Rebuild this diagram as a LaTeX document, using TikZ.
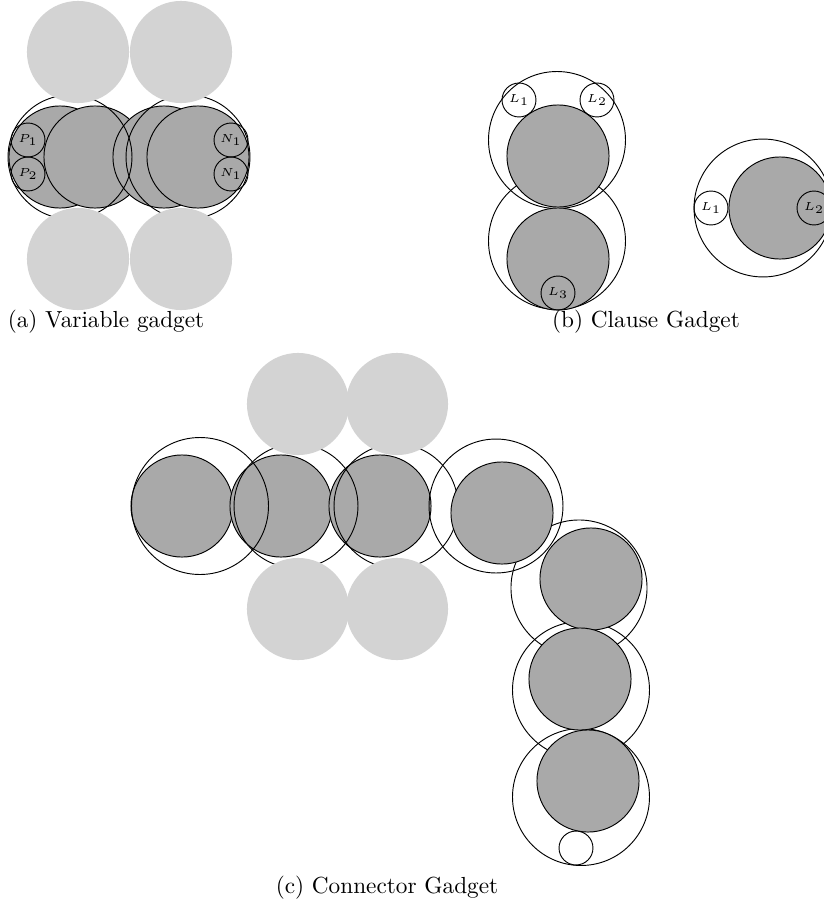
\documentclass[tikz,border=0pt]{standalone}
\definecolor{sparegray}{RGB}{211,211,211}
\definecolor{coregray}{RGB}{169,169,169}
\begin{document}
\begin{tikzpicture}[x=0.43pt, y=-0.43pt,
        spare/.style={circle, fill=sparegray, inner sep=0pt, minimum size=43.9pt},
        core/.style={circle, draw, fill=coregray, inner sep=0pt, minimum size=43.9pt},
        ring/.style={circle, draw, inner sep=0pt, minimum size=#1},
        ring/.default=58.9pt,
        lit/.style={circle, draw, inner sep=0pt, minimum size=14.6pt, font=\tiny}]
    \useasboundingbox (0,0) rectangle (824,906);

    % (a) Variable gadget
    \node[core] (a-c1) at (60,157) {};
    \node[core] (a-c2) at (95,157) {};
    \node[core] (a-c3) at (164,157) {};
    \node[core] (a-c4) at (198,157) {};
    \node[ring=53.3pt] (a-r1) at (70,157) {};
    \node[ring=53.3pt] (a-r2) at (188,157) {};
    \node[lit] (a-p1) at (28,140) {$P_1$};
    \node[lit] (a-p2) at (28,174) {$P_2$};
    \node[lit] (a-n1) at (231,140) {$N_1$};
    \node[lit] (a-n2) at (231,174) {$N_1$};
    \node[spare] (a-t1) at (78,52) {};
    \node[spare] (a-t2) at (181,52) {};
    \node[spare] (a-b1) at (78,259) {};
    \node[spare] (a-b2) at (181,259) {};
    \node (cap-a) at (106,322) {(a) Variable gadget};

    % (b) Clause gadget
    \node[ring] (b-r1) at (557,140) {};
    \node[ring] (b-r2) at (557,241) {};
    \node[core] (b-c1) at (558,156) {};
    \node[core] (b-c2) at (558,259) {};
    \node[lit] (b-l1) at (519,100) {$L_1$};
    \node[lit] (b-l2) at (597,100) {$L_2$};
    \node[lit] (b-l3) at (558,293) {$L_3$};
    \node[ring=59.3pt] (b-r3) at (763,208) {};
    \node[core] (b-c3) at (780,208) {};
    \node[lit] (b-m1) at (711,208) {$L_1$};
    \node[lit] (b-m2) at (814,208) {$L_2$};
    \node (cap-b) at (646,322) {(b) Clause Gadget};

    % (c) Connector gadget
    \node[core] (c-c1) at (182,506) {};
    \node[core] (c-c2) at (281,506) {};
    \node[core] (c-c3) at (380,506) {};
    \node[ring] (c-r1) at (200,506) {};
    \node[ring=53.3pt] (c-r2) at (296,506) {};
    \node[ring=53.3pt] (c-r3) at (396,506) {};
    \node[ring=57.6pt] (c-r4) at (496,506) {};
    \node[ring=58.5pt] (c-r5) at (579,588) {};
    \node[ring] (c-r6) at (581,690) {};
    \node[ring] (c-r7) at (581,797) {};
    \node[core] (c-c4) at (502,513) {};
    \node[core] (c-c5) at (591,579) {};
    \node[core] (c-c6) at (580,679) {};
    \node[core] (c-c7) at (588,781) {};
    \node[lit, fill=white] (c-end) at (576,848) {};
    \node[spare] (c-t1) at (298,404) {};
    \node[spare] (c-t2) at (397,404) {};
    \node[spare] (c-b1) at (298,609) {};
    \node[spare] (c-b2) at (397,609) {};
    \node (cap-c) at (387,888) {(c) Connector Gadget};
\end{tikzpicture}
\end{document}
